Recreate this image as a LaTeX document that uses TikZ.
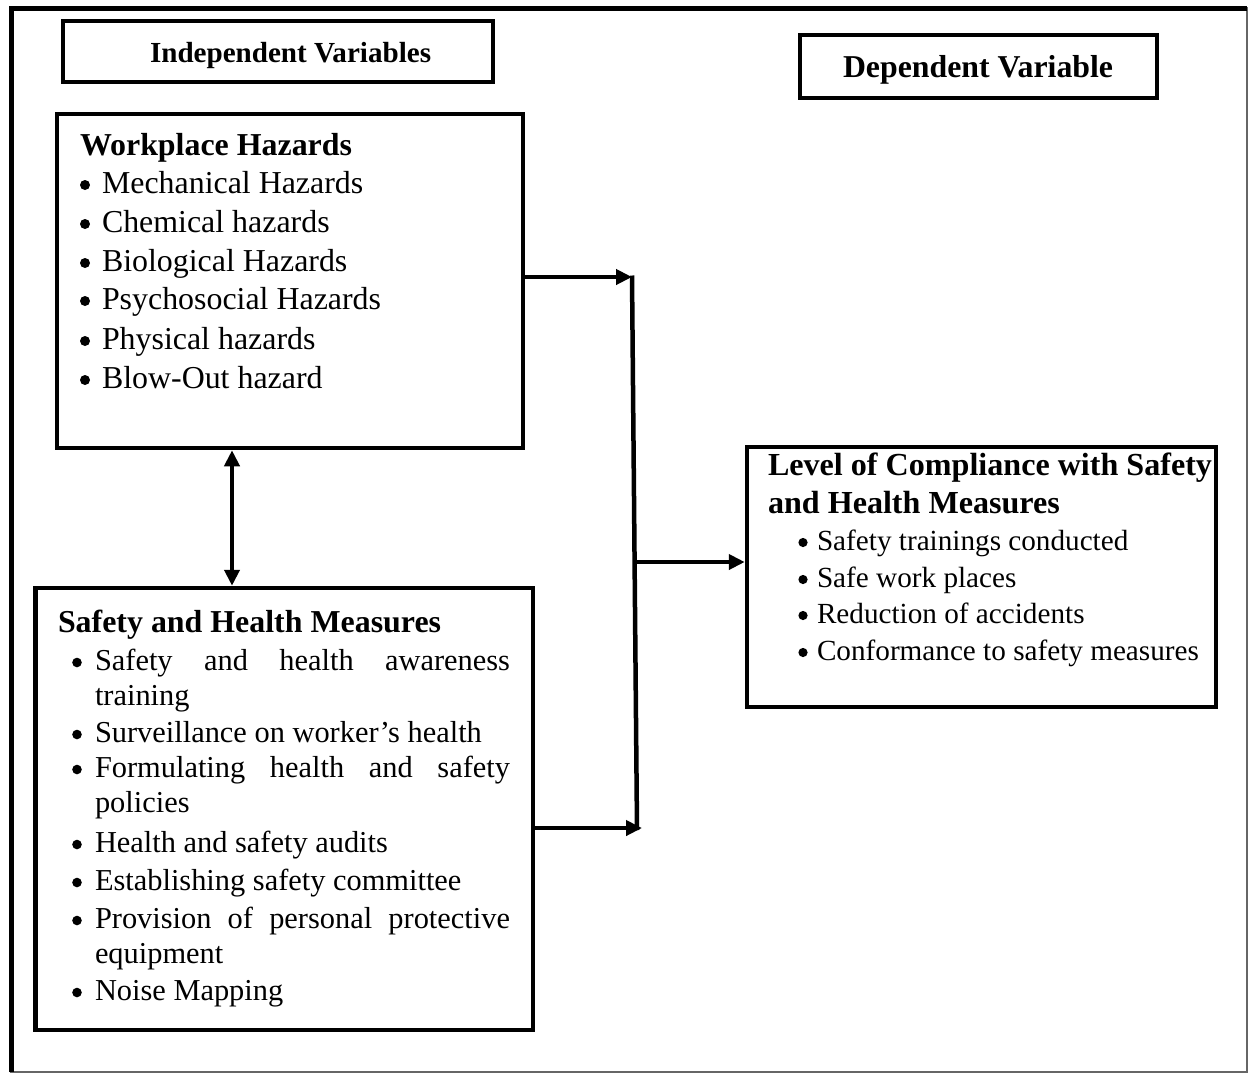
\documentclass[tikz,border=0pt]{standalone}
\usepackage{fontspec}
\setmainfont{Liberation Serif}
\usetikzlibrary{arrows.meta}
\begin{document}
\begin{tikzpicture}[x=1pt,y=-1pt,
  box/.style={draw, line width=4.5pt, inner sep=0pt},
  txt/.style={anchor=base west, inner sep=0pt, outer sep=0pt},
  hd/.style={txt, font=\fontsize{31.9}{38}\selectfont\bfseries},
  wht/.style={txt, font=\fontsize{31.9}{38}\selectfont},
  sht/.style={txt, font=\fontsize{30.4}{36}\selectfont},
  cmt/.style={txt, font=\fontsize{29.2}{35}\selectfont},
  conn/.style={line width=4.5pt},
  arr/.style={line width=4.5pt, -{Triangle[length=16pt,width=15pt]}},
  darr/.style={line width=4.5pt, {Triangle[length=16pt,width=15pt]}-{Triangle[length=16pt,width=15pt]}},
]
\useasboundingbox (0,0) rectangle (1249,1074);
\fill[white] (0,0) rectangle (1249,1074);
% outer frame
\draw[line width=1.5pt, black!60] (11,8) rectangle (1247,1072);
\draw[line width=5pt] (11,1072) -- (11,8) -- (1247,8);

% boxes
\node[box, minimum width=430pt, minimum height=61pt] (ind) at (278,51.5) {};
\node[box, minimum width=357pt, minimum height=63pt] (dep) at (978.5,66.5) {};
\node[box, minimum width=466pt, minimum height=334pt] (wh) at (290,281) {};
\node[box, minimum width=497.5pt, minimum height=442pt] (sh) at (284.25,809) {};
\node[box, minimum width=469pt, minimum height=260pt] (cm) at (981.5,577) {};

% titles
\node[txt, font=\fontsize{29.1}{35}\selectfont\bfseries] (indt) at (150,62) {Independent Variables};
\node[txt, font=\fontsize{31.8}{38}\selectfont\bfseries] (dept) at (843,77) {Dependent Variable};

% workplace hazards
\node[hd] (whh) at (80,155) {Workplace Hazards};
\node[wht] (wh1) at (102,193) {Mechanical Hazards};
\node[wht] (wh2) at (102,232) {Chemical hazards};
\node[wht] (wh3) at (102,271) {Biological Hazards};
\node[wht] (wh4) at (102,309) {Psychosocial Hazards};
\node[wht] (wh5) at (102,349) {Physical hazards};
\node[wht] (wh6) at (102,388) {Blow-Out hazard};

% safety and health measures
\node[hd] (shh) at (58,632) {Safety and Health Measures};
\node[sht] (sh1) at (95,670) {\makebox[415pt][s]{Safety and health awareness}};
\node[sht] (sh1b) at (95,705) {training};
\node[sht] (sh2) at (95,742) {Surveillance on worker’s health};
\node[sht] (sh3) at (95,777) {\makebox[415pt][s]{Formulating health and safety}};
\node[sht] (sh3b) at (95,812) {policies};
\node[sht] (sh4) at (95,852) {Health and safety audits};
\node[sht] (sh5) at (95,890) {Establishing safety committee};
\node[sht] (sh6) at (95,928) {\makebox[415pt][s]{Provision of personal protective}};
\node[sht] (sh6b) at (95,963) {equipment};
\node[sht] (sh7) at (95,1000) {Noise Mapping};

% compliance
\node[hd, font=\fontsize{32.1}{38}\selectfont\bfseries] (cmh1) at (768,475) {Level of Compliance with Safety};
\node[hd, font=\fontsize{32.1}{38}\selectfont\bfseries] (cmh2) at (768,513) {and Health Measures};
\node[cmt] (cm1) at (817,550) {Safety trainings conducted};
\node[cmt] (cm2) at (817,587) {Safe work places};
\node[cmt] (cm3) at (817,623) {Reduction of accidents};
\node[cmt] (cm4) at (817,660) {Conformance to safety measures};

% bullets
\foreach \n in {wh1,wh2,wh3,wh4,wh5,wh6}
  \fill ([xshift=-17pt,yshift=8pt]\n.base west) circle (5pt);
\foreach \n in {sh1,sh2,sh3,sh4,sh5,sh6,sh7}
  \fill ([xshift=-18pt,yshift=7.5pt]\n.base west) circle (4.8pt);
\foreach \n in {cm1,cm2,cm3,cm4}
  \fill ([xshift=-14pt,yshift=7.5pt]\n.base west) circle (4.6pt);

% connectors
\coordinate (j1) at (632,277);
\coordinate (j2) at (637,828);
\coordinate (t2) at (642,828);
\coordinate (j3) at (635,562);
\coordinate (dx) at (232,0);
\draw[conn] (632,275.5) -- (j2 |- 0,830);
\draw[arr] (j1 -| wh.east) -- (j1);
\draw[arr] (t2 -| sh.east) -- (t2);
\draw[arr] (j3) -- (j3 -| cm.west);
\draw[darr] (dx |- wh.south) -- (dx |- sh.north);
\end{tikzpicture}
\end{document}
